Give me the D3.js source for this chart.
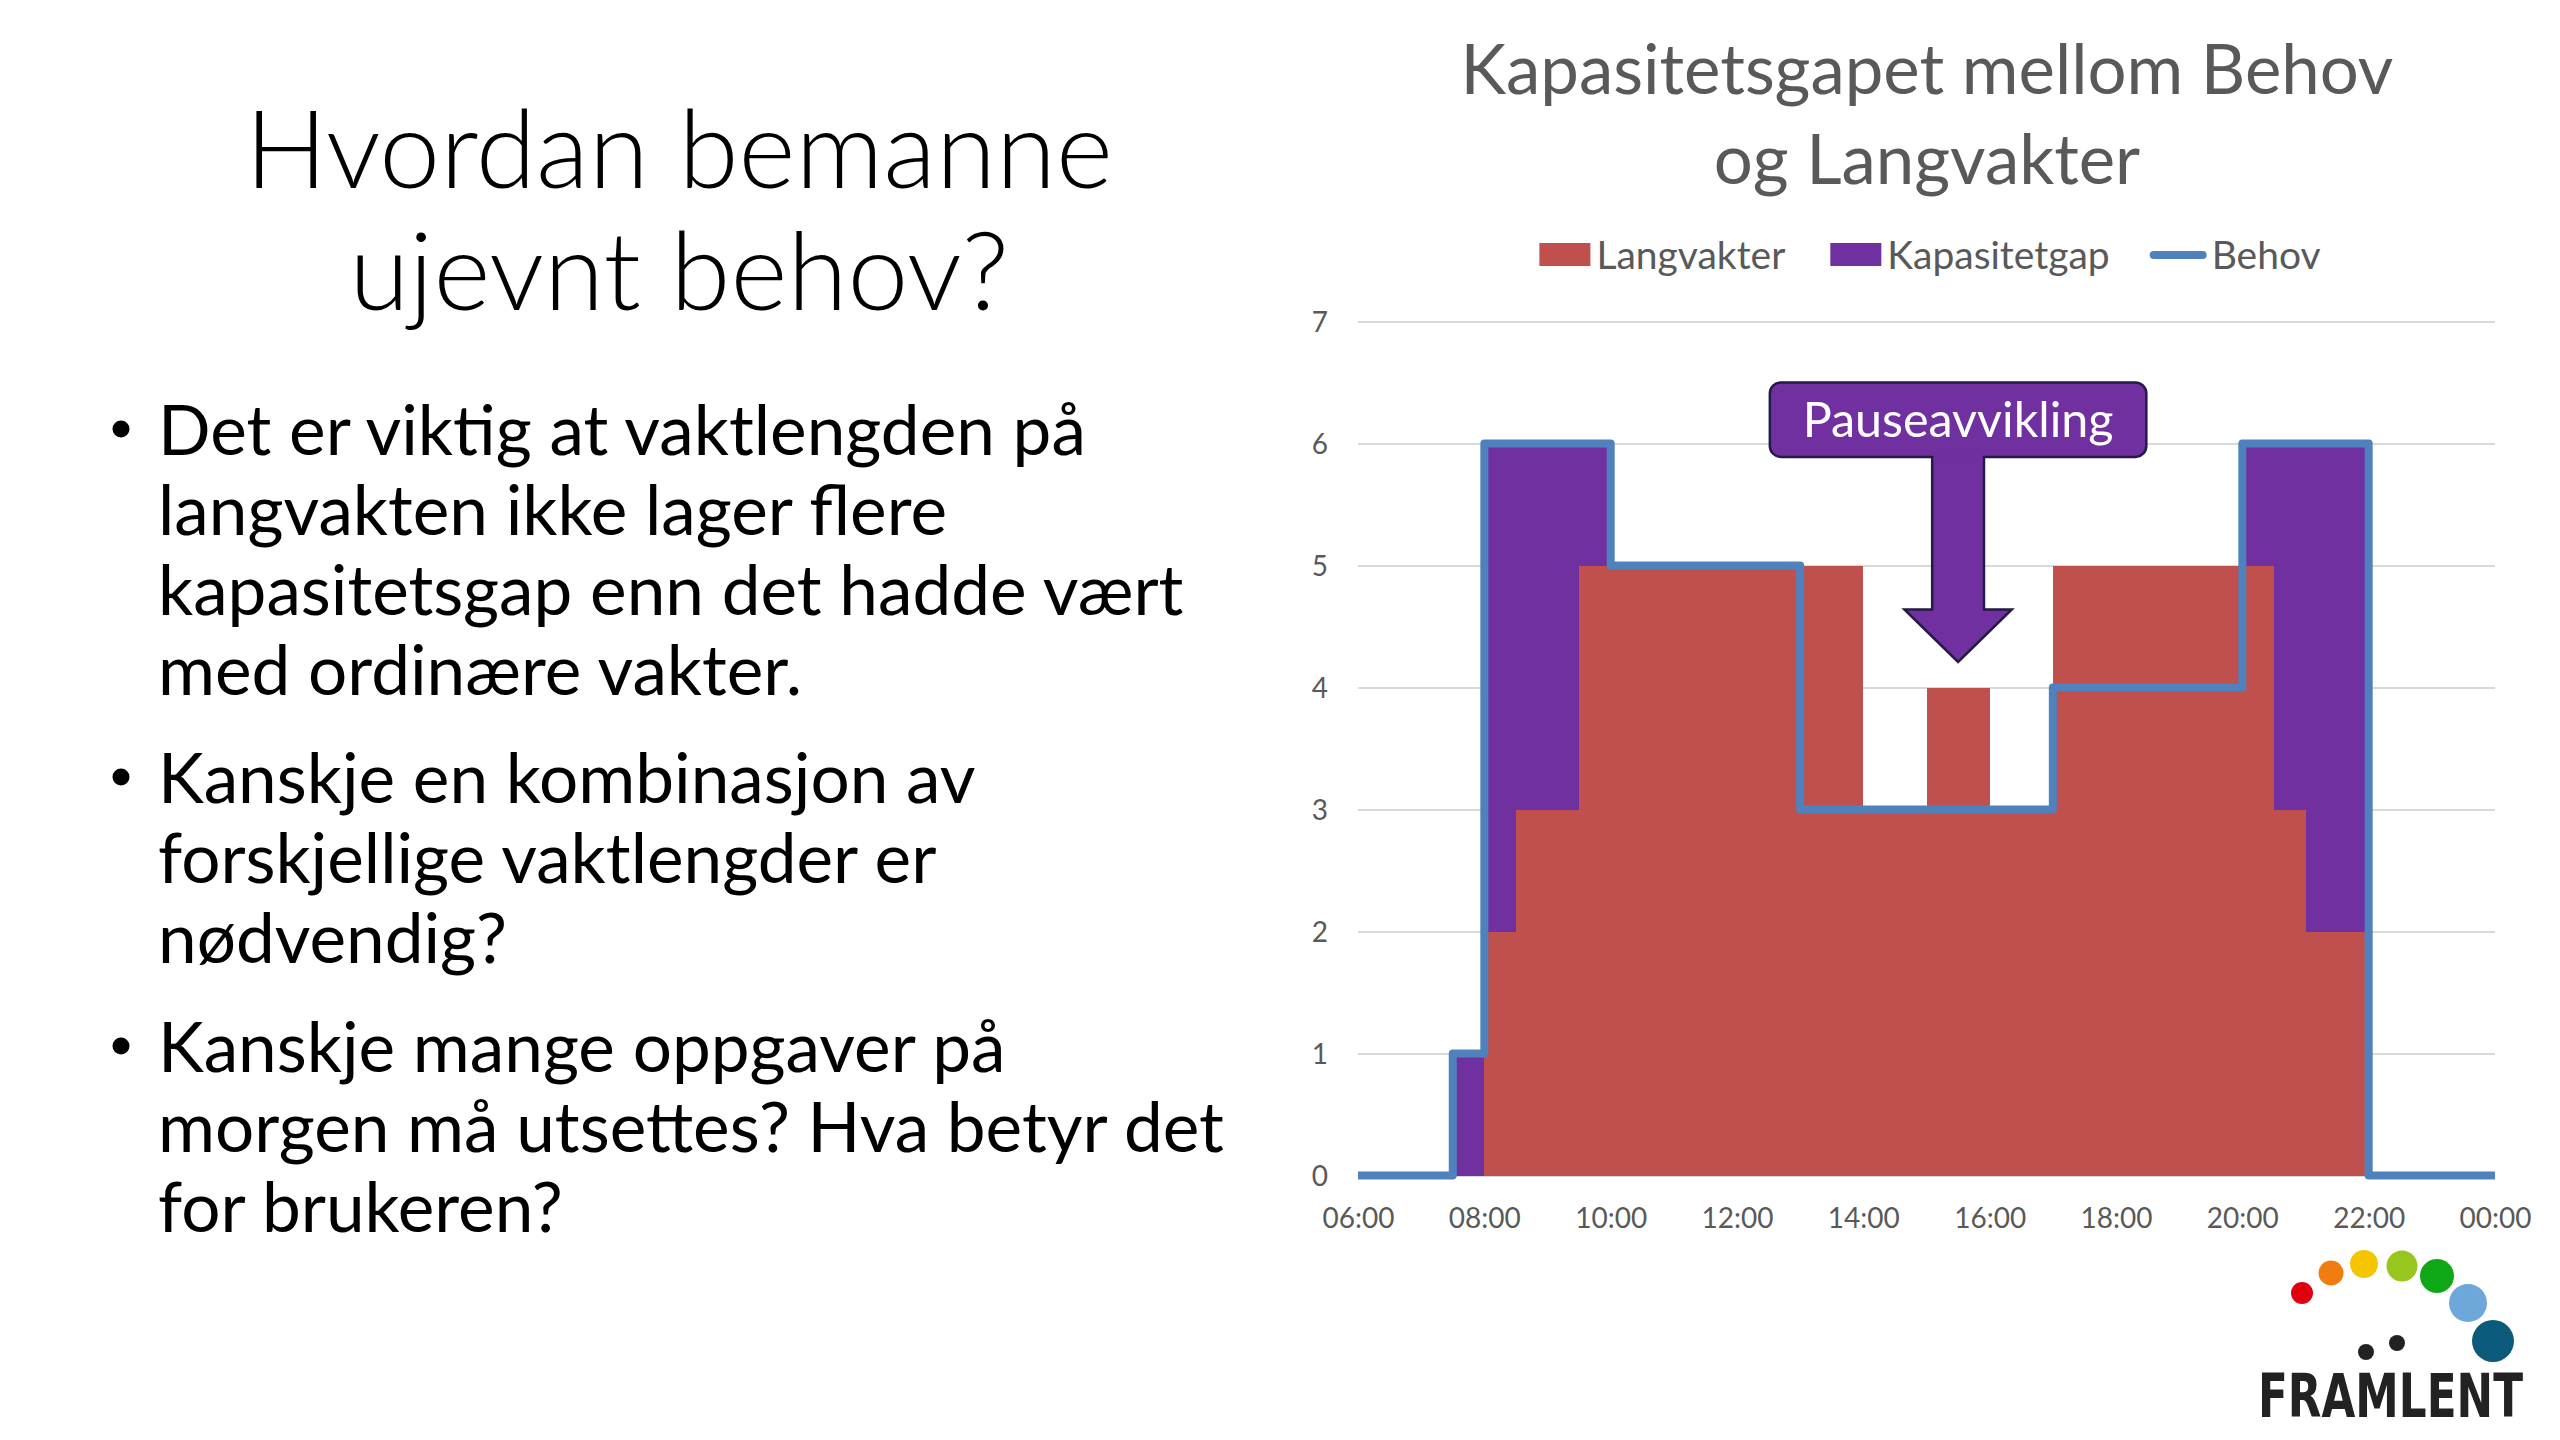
<!DOCTYPE html>
<html>
<head>
<meta charset="utf-8">
<script src="https://cdn.jsdelivr.net/npm/d3@7"></script>
<style>
  html, body { margin: 0; padding: 0; background: #ffffff; }
  svg { display: block; }
</style>
</head>
<body>
<svg id="slide" width="2560" height="1440"></svg>
<script>
// ---------------- DATA ----------------
const times = ["06:00","06:30","07:00","07:30","08:00","08:30","09:00","09:30","10:00","10:30",
  "11:00","11:30","12:00","12:30","13:00","13:30","14:00","14:30","15:00","15:30",
  "16:00","16:30","17:00","17:30","18:00","18:30","19:00","19:30","20:00","20:30",
  "21:00","21:30","22:00","22:30","23:00","23:30","00:00"];
const langvakter   = [0,0,0,0,2,3,3,5,5,5,5,5,5,5,5,5,3,3,4,4,3,3,5,5,5,5,5,5,5,3,2,2,0,0,0,0,0];
const kapasitetgap = [0,0,0,1,4,3,3,1,0,0,0,0,0,0,0,0,0,0,0,0,0,0,0,0,0,0,0,0,1,3,4,4,0,0,0,0,0];
const behov        = [0,0,0,1,6,6,6,6,5,5,5,5,5,5,3,3,3,3,3,3,3,3,4,4,4,4,4,4,6,6,6,6,0,0,0,0,0];
const xTickLabels = ["06:00","08:00","10:00","12:00","14:00","16:00","18:00","20:00","22:00","00:00"];
const yTickValues = [0,1,2,3,4,5,6,7];
const seriesNames = ["Langvakter","Kapasitetgap","Behov"];
const chartTitle = ["Kapasitetsgapet mellom Behov","og Langvakter"];
const annotationText = "Pauseavvikling";
const annotationTime = "15:30";
const slideTitle = ["Hvordan bemanne","ujevnt behov?"];
const bullets = [
  ["Det er viktig at vaktlengden på","langvakten ikke lager flere","kapasitetsgap enn det hadde vært","med ordinære vakter."],
  ["Kanskje en kombinasjon av","forskjellige vaktlengder er","nødvendig?"],
  ["Kanskje mange oppgaver på","morgen må utsettes? Hva betyr det","for brukeren?"]
];
const logoText = "FRAMLENT";
const logoColors = ["#e0000f","#ef7d10","#f5c600","#97c61e","#10a716","#6ea7da","#0b5a7c"];

// ---------------- HELPERS ----------------
const FONT = "Lato, 'Open Sans', 'Noto Sans', sans-serif";
function toHour(s, i) {
  const [hh, mm] = s.split(":").map(Number);
  let h = hh + mm / 60;
  if (i > 0 && h < 6) h += 24;
  return h;
}
function fitSize(textSel, target) {
  const w = textSel.node().getComputedTextLength();
  const fs = parseFloat(textSel.attr("font-size"));
  return fs * target / w;
}

const svg = d3.select("#slide");

// ---------------- SLIDE TEXT ----------------
const titleG = svg.append("g").attr("font-family", FONT).attr("font-weight", 300).attr("fill", "#000");
const t1 = titleG.append("text").attr("font-size", 100).text(slideTitle[0]);
const titleSize = fitSize(t1, 868);
t1.remove();
slideTitle.forEach((line, i) => {
  titleG.append("text")
    .attr("x", 679).attr("y", 188 + i * 122)
    .attr("text-anchor", "middle")
    .attr("font-size", titleSize)
    .text(line);
});

const bulletG = svg.append("g").attr("font-family", FONT).attr("fill", "#000");
const probe = bulletG.append("text").attr("font-size", 70).text(bullets[2][1]);
const bulletSize = fitSize(probe, 1066);
probe.remove();
const bulletStarts = [455, 803, 1072];
const lineStep = 80;
bullets.forEach((lines, bi) => {
  bulletG.append("circle")
    .attr("cx", 121).attr("cy", bulletStarts[bi] - 26)
    .attr("r", 8.5);
  lines.forEach((line, li) => {
    bulletG.append("text")
      .attr("x", 158).attr("y", bulletStarts[bi] + li * lineStep)
      .attr("font-size", bulletSize)
      .text(line);
  });
});

// ---------------- CHART ----------------
const hours = times.map(toHour);
const xTicks = xTickLabels.map(toHour);
const x = d3.scaleLinear().domain([6, 24]).range([1358, 2495]);
const y = d3.scaleLinear().domain([0, 7]).range([1175.5, 321.5]);

const rows = hours.map((h, i) => ({ t: h, Langvakter: langvakter[i], Kapasitetgap: kapasitetgap[i], Behov: behov[i] }));

const chartG = svg.append("g");

// gridlines
chartG.append("g")
  .attr("transform", `translate(${x.range()[0]},0)`)
  .call(d3.axisLeft(y).tickValues(yTickValues).tickSize(-(x.range()[1] - x.range()[0])).tickFormat(""))
  .call(g => g.select(".domain").remove())
  .call(g => g.selectAll("line").attr("stroke", "#d9d9d9").attr("stroke-width", 2.2));

// stacked areas
const stacked = d3.stack().keys(["Langvakter", "Kapasitetgap"])(rows);
const colors = { Langvakter: "#c0504d", Kapasitetgap: "#7030a0", Behov: "#4f81bd" };
const area = d3.area().curve(d3.curveStepAfter)
  .x(d => x(d.data.t)).y0(d => y(d[0])).y1(d => y(d[1]));
chartG.selectAll("path.area").data(stacked).join("path")
  .attr("class", "area")
  .attr("fill", d => colors[d.key])
  .attr("shape-rendering", "crispEdges")
  .attr("d", area);

// behov line
const line = d3.line().curve(d3.curveStepAfter).x(d => x(d.t)).y(d => y(d.Behov));
chartG.append("path").datum(rows)
  .attr("fill", "none")
  .attr("stroke", colors.Behov)
  .attr("stroke-width", 8)
  .attr("stroke-linejoin", "round")
  .attr("d", line);

// axes
const tickFont = 30;
const xAxisG = chartG.append("g")
  .attr("transform", `translate(0,${y(0)})`)
  .call(d3.axisBottom(x).tickValues(xTicks).tickSize(0).tickFormat((d, i) => xTickLabels[i]));
xAxisG.select(".domain").remove();
xAxisG.selectAll("text").attr("font-family", FONT).attr("font-size", tickFont)
  .attr("fill", "#595959").attr("dy", null).attr("y", 52);
const tProbe = xAxisG.select("text");
const tickSize = fitSize(tProbe, 72);
xAxisG.selectAll("text").attr("font-size", tickSize);

const yAxisG = chartG.append("g")
  .attr("transform", `translate(${1331},0)`)
  .call(d3.axisLeft(y).tickValues(yTickValues).tickSize(0).tickPadding(3).tickFormat(d3.format("d")));
yAxisG.select(".domain").remove();
yAxisG.selectAll("text").attr("font-family", FONT).attr("font-size", tickSize)
  .attr("fill", "#595959").attr("dy", "0.36em");

// chart title
const ctG = svg.append("g").attr("font-family", FONT).attr("fill", "#595959");
const ctProbe = ctG.append("text").attr("font-size", 70).text(chartTitle[0]);
const ctSize = fitSize(ctProbe, 933);
ctProbe.remove();
chartTitle.forEach((ln, i) => {
  ctG.append("text").attr("x", 1927).attr("y", 94 + i * 90)
    .attr("text-anchor", "middle").attr("font-size", ctSize).text(ln);
});

// legend
const legG = svg.append("g").attr("font-family", FONT).attr("fill", "#595959");
const lgProbe = legG.append("text").attr("font-size", 36).text(seriesNames[0]);
const legSize = fitSize(lgProbe, 189);
lgProbe.remove();
const legendY = 255;
let lx = 0;
const items = legG.append("g");
seriesNames.forEach((name, i) => {
  const it = items.append("g").attr("transform", `translate(${lx},0)`);
  if (name === "Behov") {
    it.append("line").attr("x1", 5).attr("x2", 54).attr("y1", legendY).attr("y2", legendY)
      .attr("stroke", colors[name]).attr("stroke-width", 8).attr("stroke-linecap", "round");
  } else {
    it.append("rect").attr("x", 0).attr("y", legendY - 12).attr("width", 51).attr("height", 23)
      .attr("fill", colors[name]);
  }
  const tx = it.append("text").attr("x", name === "Behov" ? 63 : 57).attr("y", legendY)
    .attr("dy", "0.35em").attr("font-size", legSize).text(name);
  lx += (name === "Behov" ? 63 : 57) + tx.node().getComputedTextLength() + (i === 0 ? 45 : 39);
});
const bb = items.node().getBBox();
items.attr("transform", `translate(${1930 - (bb.x + bb.width / 2)},0)`);

// annotation callout
const annG = svg.append("g");
const ah = toHour(annotationTime, 1);
const ax = x(ah);
const boxTop = y(6.5), boxBot = y(5.89);
const halfBox = x(ah + 2.98) - ax;
const halfShaft = x(ah + 0.41) - ax;
const halfHead = x(ah + 0.85) - ax;
const headTop = y(4.64), tip = y(4.21);
const arrowPath = d3.path();
arrowPath.moveTo(ax - halfShaft, boxBot - 2);
arrowPath.lineTo(ax - halfShaft, headTop);
arrowPath.lineTo(ax - halfHead, headTop);
arrowPath.lineTo(ax, tip);
arrowPath.lineTo(ax + halfHead, headTop);
arrowPath.lineTo(ax + halfShaft, headTop);
arrowPath.lineTo(ax + halfShaft, boxBot - 2);
annG.append("path").attr("d", arrowPath.toString())
  .attr("fill", "#7030a0").attr("stroke", "#241a48").attr("stroke-width", 2.5).attr("stroke-linejoin", "miter");
annG.append("rect")
  .attr("x", ax - halfBox).attr("y", boxTop).attr("width", 2 * halfBox).attr("height", boxBot - boxTop)
  .attr("rx", 11).attr("fill", "#7030a0").attr("stroke", "#241a48").attr("stroke-width", 2.5);
annG.append("rect").attr("x", ax - halfShaft + 1.25).attr("y", boxBot - 4).attr("width", 2 * halfShaft - 2.5).attr("height", 8)
  .attr("fill", "#7030a0");
const annText = annG.append("text").attr("font-family", FONT).attr("font-size", 40).attr("fill", "#fff")
  .attr("text-anchor", "middle").attr("x", ax).attr("y", 437).text(annotationText);
annText.attr("font-size", fitSize(annText, 311));

// ---------------- LOGO ----------------
const logoG = svg.append("g");
const dots = [[2302,1293,11],[2331,1273,12.5],[2364,1264,14],[2402,1266,15.5],[2437,1276,17],[2468,1303,19],[2493,1341,21]];
logoG.selectAll("circle.dot").data(dots).join("circle")
  .attr("class", "dot")
  .attr("cx", d => d[0]).attr("cy", d => d[1]).attr("r", d => d[2])
  .attr("fill", (d, i) => logoColors[i]);
logoG.append("circle").attr("cx", 2366).attr("cy", 1352).attr("r", 8).attr("fill", "#222");
logoG.append("circle").attr("cx", 2397).attr("cy", 1343).attr("r", 8).attr("fill", "#222");
const logoTxt = logoG.append("text").attr("x", 0).attr("y", 0)
  .attr("font-family", "'DejaVu Sans', sans-serif").attr("font-weight", 700)
  .attr("font-size", 40).attr("fill", "#222").text(logoText);
const logoSize = fitSize(logoTxt, 265);
logoTxt.attr("font-size", logoSize);
const capH = logoSize * 0.73;
logoTxt.attr("transform", `translate(2258,1417) scale(1,${44 / capH})`);
</script>
</body>
</html>
